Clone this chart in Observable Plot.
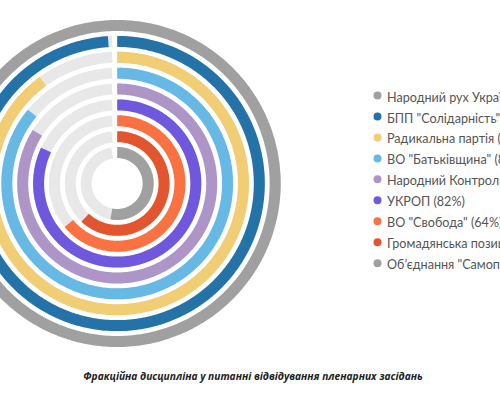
<!DOCTYPE html>
<html><head><meta charset="utf-8">
<script src="https://cdn.jsdelivr.net/npm/d3@7"></script>
<script src="https://cdn.jsdelivr.net/npm/@observablehq/plot@0.6"></script>
<style>
html,body{margin:0;padding:0;background:#fff}
body{width:500px;height:400px;overflow:hidden;position:relative}
#chart{position:absolute;left:0;top:0}
#caption{position:absolute;left:0;width:506px;top:369px;text-align:center;font-family:"Open Sans",sans-serif;font-style:italic;font-weight:bold;font-size:10.2px;color:#222}
</style></head><body>
<div id="chart"></div>
<div id="caption">Фракційна дисципліна у питанні відвідування пленарних засідань</div>
<script>
// Data (outer ring first)
const parties = [
  "Народний рух України",
  "БПП \"Солідарність\"",
  "Радикальна партія",
  "ВО \"Батьківщина\"",
  "Народний Контроль",
  "УКРОП",
  "ВО \"Свобода\"",
  "Громадянська позиція",
  "Об’єднання \"Самопоміч\""
];
const values = [100, 99, 90, 86, 84, 82, 64, 62, 53];
const colors = ["#a0a0a0", "#2473a8", "#f1cd73", "#67b9e5", "#ad95c7", "#6f57de", "#fa7142", "#e3552f", "#a0a0a0"];
const trackColor = "#e8e8e8";

// Layout
const W = 500, H = 360, cx = 116.7, cy = 183;
const outerR = 158, pitch = 15.875, band = 11, trackGap = 5;

const rings = parties.map((p, i) => ({party: p, value: values[i], r: outerR - i * pitch, i}));

function arcPoints(ring, frac, padPx) {
  const end = frac * 2 * Math.PI - padPx / ring.r;
  const n = Math.max(2, Math.ceil(end / (Math.PI / 180)));
  return d3.range(n + 1).map(k => {
    const t = end * k / n;
    return {party: ring.party, x: ring.r * Math.sin(t), y: ring.r * Math.cos(t)};
  });
}
const trackPts = rings.flatMap(r => arcPoints(r, 1, trackGap));
const barPts = rings.flatMap(r => arcPoints(r, r.value / 100, 0));

const legendX = 377 - cx;
const legend = rings.map(r => ({
  party: r.party,
  label: `${r.party} (${r.value}%)`,
  x: legendX,
  y: cy - (95 + 20.96 * r.i)
}));

const chart = Plot.plot({
  width: W, height: H, margin: 0,
  x: {domain: [-cx, W - cx], axis: null},
  y: {domain: [cy - H, cy], axis: null},
  color: {type: "ordinal", domain: parties, range: colors},
  marks: [
    Plot.line(trackPts, {x: "x", y: "y", z: "party", stroke: trackColor, strokeWidth: band, strokeLinecap: "butt", strokeLinejoin: "round", curve: "linear"}),
    Plot.line(barPts, {x: "x", y: "y", z: "party", stroke: "party", strokeWidth: band, strokeLinecap: "butt", strokeLinejoin: "round", curve: "linear"}),
    Plot.dot(legend, {x: "x", y: "y", r: 4, fill: "party", stroke: null}),
    Plot.text(legend, {x: "x", y: "y", text: "label", dx: 9.5, dy: 2, textAnchor: "start", fill: "#555", fontSize: 12.6, fontFamily: "Lato"})
  ]
});
document.getElementById("chart").appendChild(chart);
</script>
</body></html>
